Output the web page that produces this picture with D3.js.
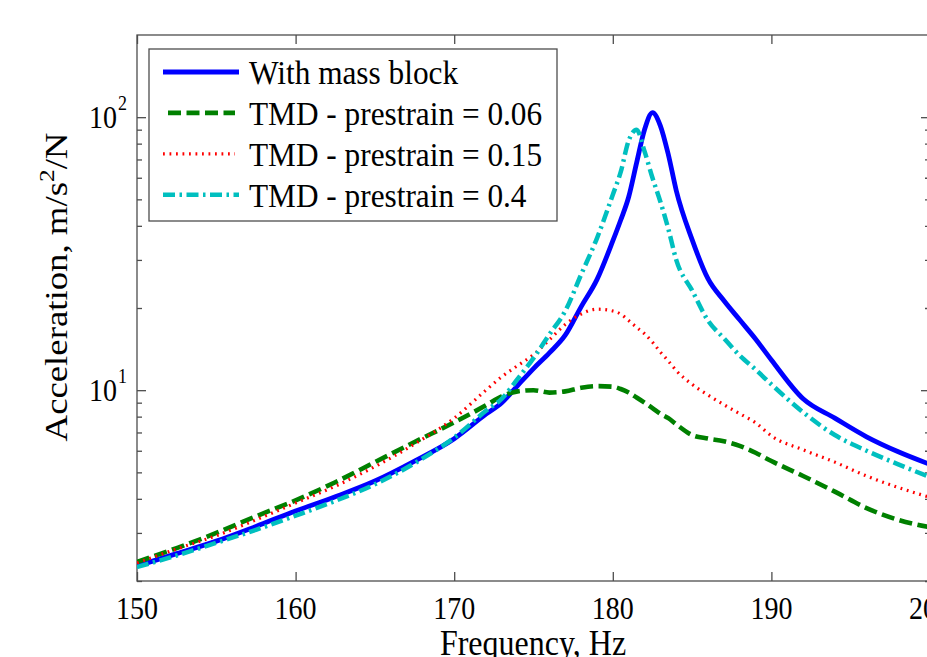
<!DOCTYPE html>
<html>
<head>
<meta charset="utf-8">
<script src="https://cdn.jsdelivr.net/npm/d3@7"></script>
<style>
  html, body { margin: 0; padding: 0; background: #fff; }
  svg { display: block; }
  text { font-family: "Liberation Serif", "Times New Roman", serif; fill: #000; }
</style>
</head>
<body>
<svg id="chart" width="927" height="657"></svg>
<script>
// frequency grid, Hz
const freq = [150, 152.5, 155, 157.5, 160, 162.5, 165, 167.5, 170,
  172, 173, 174, 175, 176, 177, 178, 179, 180,
  180.5, 181, 181.5, 182, 182.5, 183, 183.5, 184,
  185, 186, 187, 188, 189, 190,
  192, 194, 196, 198, 200];

// acceleration, m/s^2/N
const withMass = [2.27, 2.52, 2.80, 3.17, 3.61, 4.07, 4.65, 5.5, 6.64,
  8.17, 9.0, 10.4, 12.0, 13.7, 15.9, 20.2, 25.4, 35.2,
  42, 51, 68, 90, 104, 93, 73, 53.9,
  35.6, 25.6, 21.3, 18.1, 15.4, 12.9,
  9.3, 7.9, 6.75, 5.95, 5.35];
const tmd006 = [2.35, 2.64, 3.0, 3.45, 3.95, 4.6, 5.45, 6.46, 7.62,
  8.8, 9.5, 9.9, 10.0, 9.8, 9.9, 10.2, 10.35, 10.3,
  10.1, 9.8, 9.4, 9.0, 8.6, 8.2, 7.9, 7.5,
  6.85, 6.65, 6.5, 6.25, 5.9, 5.5,
  4.85, 4.25, 3.7, 3.35, 3.15];
const tmd015 = [2.33, 2.62, 2.93, 3.35, 3.86, 4.45, 5.25, 6.35, 7.9,
  10.0, 11.2, 12.3, 13.5, 15.3, 17.4, 19.0, 19.8, 19.5,
  19.0, 18.0, 17.0, 16.1, 15.0, 13.8, 12.8, 11.8,
  10.5, 9.6, 8.85, 8.2, 7.6, 6.8,
  6.05, 5.45, 4.85, 4.4, 4.05];
const tmd04 = [2.25, 2.48, 2.76, 3.08, 3.47, 3.93, 4.52, 5.4, 6.7,
  8.4, 9.3, 11.0, 13.1, 16.0, 19.5, 26.5, 36, 52,
  63, 82, 90, 75, 60, 49, 39, 30,
  23.2, 18.0, 15.5, 13.4, 11.9, 10.5,
  8.3, 6.85, 6.0, 5.35, 4.8];

const seriesNames = ["With mass block", "TMD - prestrain = 0.06", "TMD - prestrain = 0.15", "TMD - prestrain = 0.4"];
const seriesColors = ["#0000ff", "#008000", "#ff0000", "#00bfbf"];
const seriesDash = [null, "13,5.5", "1.8,4.7", "12,4.5,2.5,4.5"];
const seriesWidth = [4.8, 4.6, 3.2, 4.5];

const xTicks = [150, 160, 170, 180, 190, 200];
const yMajor = [10, 100];
const yMinor = [2, 3, 4, 5, 6, 7, 8, 9, 20, 30, 40, 50, 60, 70, 80, 90];
const yMajorLabels = ["1", "2"];

const svg = d3.select("#chart");
const plot = {left: 137, right: 930, top: 35, bottom: 581};
const axisColor = "#4d4d4d";

const x = d3.scaleLinear().domain([150, 200]).range([plot.left, plot.right]);
const y = d3.scaleLog().domain([2, 200]).range([plot.bottom, plot.top]);

svg.append("rect").attr("width", 927).attr("height", 657).attr("fill", "#fff");

svg.append("defs").append("clipPath").attr("id", "clip")
  .append("rect")
  .attr("x", plot.left).attr("y", plot.top)
  .attr("width", plot.right - plot.left).attr("height", plot.bottom - plot.top);

// ticks (inward, MATLAB style)
function styleAxis(g) {
  g.select(".domain").remove();
  g.selectAll("line").attr("stroke", axisColor).attr("stroke-width", 1.3);
}
svg.append("g").attr("transform", `translate(0,${plot.bottom})`)
  .call(d3.axisBottom(x).tickValues(xTicks).tickSize(-9).tickFormat("")).call(styleAxis);
svg.append("g").attr("transform", `translate(0,${plot.top})`)
  .call(d3.axisTop(x).tickValues(xTicks).tickSize(-9).tickFormat("")).call(styleAxis);
svg.append("g").attr("transform", `translate(${plot.left},0)`)
  .call(d3.axisLeft(y).tickValues(yMajor).tickSize(-9).tickFormat("")).call(styleAxis);
svg.append("g").attr("transform", `translate(${plot.left},0)`)
  .call(d3.axisLeft(y).tickValues(yMinor).tickSize(-5).tickFormat("")).call(styleAxis);
svg.append("g").attr("transform", `translate(${plot.right},0)`)
  .call(d3.axisRight(y).tickValues(yMajor).tickSize(-9).tickFormat("")).call(styleAxis);
svg.append("g").attr("transform", `translate(${plot.right},0)`)
  .call(d3.axisRight(y).tickValues(yMinor).tickSize(-5).tickFormat("")).call(styleAxis);

// frame
svg.append("rect")
  .attr("x", plot.left).attr("y", plot.top)
  .attr("width", plot.right - plot.left).attr("height", plot.bottom - plot.top)
  .attr("fill", "none").attr("stroke", axisColor).attr("stroke-width", 1.3);

// tick labels
svg.append("g").selectAll("text").data(xTicks).join("text")
  .attr("transform", d => `translate(${x(d)},619) scale(1,1.15)`)
  .attr("text-anchor", "middle")
  .attr("font-size", 28)
  .text(d => d);

const yl = svg.append("g").selectAll("g").data(yMajor).join("g");
yl.append("text")
  .attr("transform", d => `translate(117,${y(d) + 11}) scale(1,1.15)`)
  .attr("text-anchor", "end")
  .attr("font-size", 28)
  .text("10");
yl.append("text")
  .attr("transform", d => `translate(118,${y(d) - 7}) scale(1,1.15)`)
  .attr("font-size", 18)
  .text((d, i) => yMajorLabels[i]);

// axis labels
svg.append("text")
  .attr("transform", "translate(533,655) scale(1,1.15)")
  .attr("text-anchor", "middle")
  .attr("font-size", 32)
  .text("Frequency, Hz");

const ylab = svg.append("text")
  .attr("transform", "translate(67,287) rotate(-90) scale(1.15,1)")
  .attr("text-anchor", "middle")
  .attr("font-size", 32);
ylab.append("tspan").text("Acceleration, m/s");
ylab.append("tspan").attr("font-size", 22).attr("dy", -13).text("2");
ylab.append("tspan").attr("dy", 13).text("/N");

// curves
const allSeries = [withMass, tmd006, tmd015, tmd04];
const line = d3.line()
  .x(d => x(d[0]))
  .y(d => y(d[1]))
  .curve(d3.curveMonotoneX);

const lines = svg.append("g").attr("clip-path", "url(#clip)");
allSeries.forEach((vals, i) => {
  lines.append("path")
    .datum(freq.map((f, j) => [f, vals[j]]))
    .attr("fill", "none")
    .attr("stroke", seriesColors[i])
    .attr("stroke-width", seriesWidth[i])
    .attr("stroke-dasharray", seriesDash[i])
    .attr("stroke-linejoin", "round")
    .attr("d", line);
});

// legend
const legend = svg.append("g");
legend.append("rect")
  .attr("x", 149).attr("y", 49).attr("width", 408).attr("height", 172)
  .attr("fill", "#fff").attr("stroke", axisColor).attr("stroke-width", 1.3);

const rows = legend.selectAll("g.row").data(seriesNames).join("g")
  .attr("class", "row")
  .attr("transform", (d, i) => `translate(0,${72 + i * 40.9})`);
rows.append("line")
  .attr("x1", (d, i) => i === 1 ? 168 : 163)
  .attr("x2", (d, i) => i === 1 || i === 2 ? 235 : 239)
  .attr("y1", 0).attr("y2", 0)
  .attr("stroke", (d, i) => seriesColors[i])
  .attr("stroke-width", (d, i) => seriesWidth[i])
  .attr("stroke-dasharray", (d, i) => seriesDash[i]);
rows.append("text")
  .attr("transform", "translate(249,12) scale(1.01,1.06)")
  .attr("font-size", 31)
  .text(d => d);
</script>
</body>
</html>
